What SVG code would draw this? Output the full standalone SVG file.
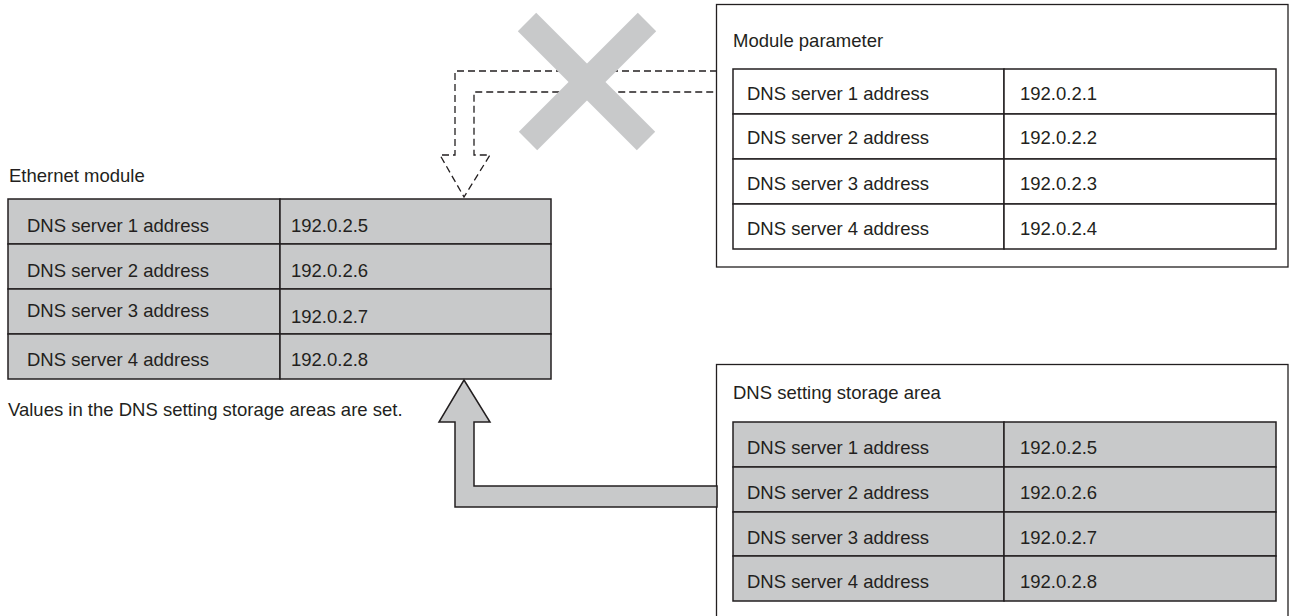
<svg xmlns="http://www.w3.org/2000/svg" width="1289" height="616" viewBox="0 0 1289 616">
<style>
text{font-family:"Liberation Sans",Arial,sans-serif;font-size:18.5px;fill:#231f20}
.cell{fill:#c8c9ca;stroke:#231f20;stroke-width:1.5}
.wcell{fill:#fff;stroke:#231f20;stroke-width:1.5}
.box{fill:#fff;stroke:#231f20;stroke-width:1.3}
.dash{fill:none;stroke:#231f20;stroke-width:1.3;stroke-dasharray:7 4}
.cross{stroke:#c8c9ca;stroke-width:26;stroke-linecap:butt}
</style>
<rect width="1289" height="616" fill="#fff"/>

<g id="module-parameter">
<rect class="box" x="716.5" y="4.5" width="571.5" height="262.5"/>
<text x="733" y="47">Module parameter</text>
<rect class="wcell" x="733" y="69" width="271" height="45"/><rect class="wcell" x="1004" y="69" width="272" height="45"/>
<rect class="wcell" x="733" y="114" width="271" height="45"/><rect class="wcell" x="1004" y="114" width="272" height="45"/>
<rect class="wcell" x="733" y="159" width="271" height="45"/><rect class="wcell" x="1004" y="159" width="272" height="45"/>
<rect class="wcell" x="733" y="204" width="271" height="45"/><rect class="wcell" x="1004" y="204" width="272" height="45"/>
<text x="747" y="99.5">DNS server 1 address</text><text x="1020" y="99.5">192.0.2.1</text>
<text x="747" y="143.5">DNS server 2 address</text><text x="1020" y="143.5">192.0.2.2</text>
<text x="747" y="189.5">DNS server 3 address</text><text x="1020" y="189.5">192.0.2.3</text>
<text x="747" y="234.5">DNS server 4 address</text><text x="1020" y="234.5">192.0.2.4</text>
</g>

<g id="storage-area">
<rect class="box" x="716.5" y="364.5" width="571.5" height="260"/>
<text x="733" y="399">DNS setting storage area</text>
<rect class="cell" x="733" y="422" width="271" height="45"/><rect class="cell" x="1004" y="422" width="272" height="45"/>
<rect class="cell" x="733" y="467" width="271" height="45"/><rect class="cell" x="1004" y="467" width="272" height="45"/>
<rect class="cell" x="733" y="512" width="271" height="44"/><rect class="cell" x="1004" y="512" width="272" height="44"/>
<rect class="cell" x="733" y="556" width="271" height="45"/><rect class="cell" x="1004" y="556" width="272" height="45"/>
<text x="747" y="453.5">DNS server 1 address</text><text x="1020" y="453.5">192.0.2.5</text>
<text x="747" y="498.5">DNS server 2 address</text><text x="1020" y="498.5">192.0.2.6</text>
<text x="747" y="543.5">DNS server 3 address</text><text x="1020" y="543.5">192.0.2.7</text>
<text x="747" y="587.5">DNS server 4 address</text><text x="1020" y="587.5">192.0.2.8</text>
</g>

<g id="ethernet-module">
<text x="9" y="181.5">Ethernet module</text>
<rect class="cell" x="8" y="199" width="272" height="45"/><rect class="cell" x="280" y="199" width="271" height="45"/>
<rect class="cell" x="8" y="244" width="272" height="45"/><rect class="cell" x="280" y="244" width="271" height="45"/>
<rect class="cell" x="8" y="289" width="272" height="45"/><rect class="cell" x="280" y="289" width="271" height="45"/>
<rect class="cell" x="8" y="334" width="272" height="45"/><rect class="cell" x="280" y="334" width="271" height="45"/>
<text x="27" y="231.5">DNS server 1 address</text><text x="291" y="231.5">192.0.2.5</text>
<text x="27" y="276.5">DNS server 2 address</text><text x="291" y="276.5">192.0.2.6</text>
<text x="27" y="317">DNS server 3 address</text><text x="291" y="322.5">192.0.2.7</text>
<text x="27" y="365.5">DNS server 4 address</text><text x="291" y="365.5">192.0.2.8</text>
<text x="8" y="415.5">Values in the DNS setting storage areas are set.</text>
</g>

<g id="connectors">
<path class="dash" d="M717,71 H455 V155 H440 L464,197 L490,155 H474 V92 H717"/>
<g id="cross">
<line class="cross" x1="527" y1="22" x2="646" y2="141"/>
<line class="cross" x1="647" y1="22" x2="528" y2="141"/>
</g>
<path d="M464,380 L490,422 H474 V486 H717 V507 H455 V422 H439 Z" fill="#c8c9ca" stroke="#231f20" stroke-width="1.5" stroke-linejoin="miter"/>
</g>
</svg>
